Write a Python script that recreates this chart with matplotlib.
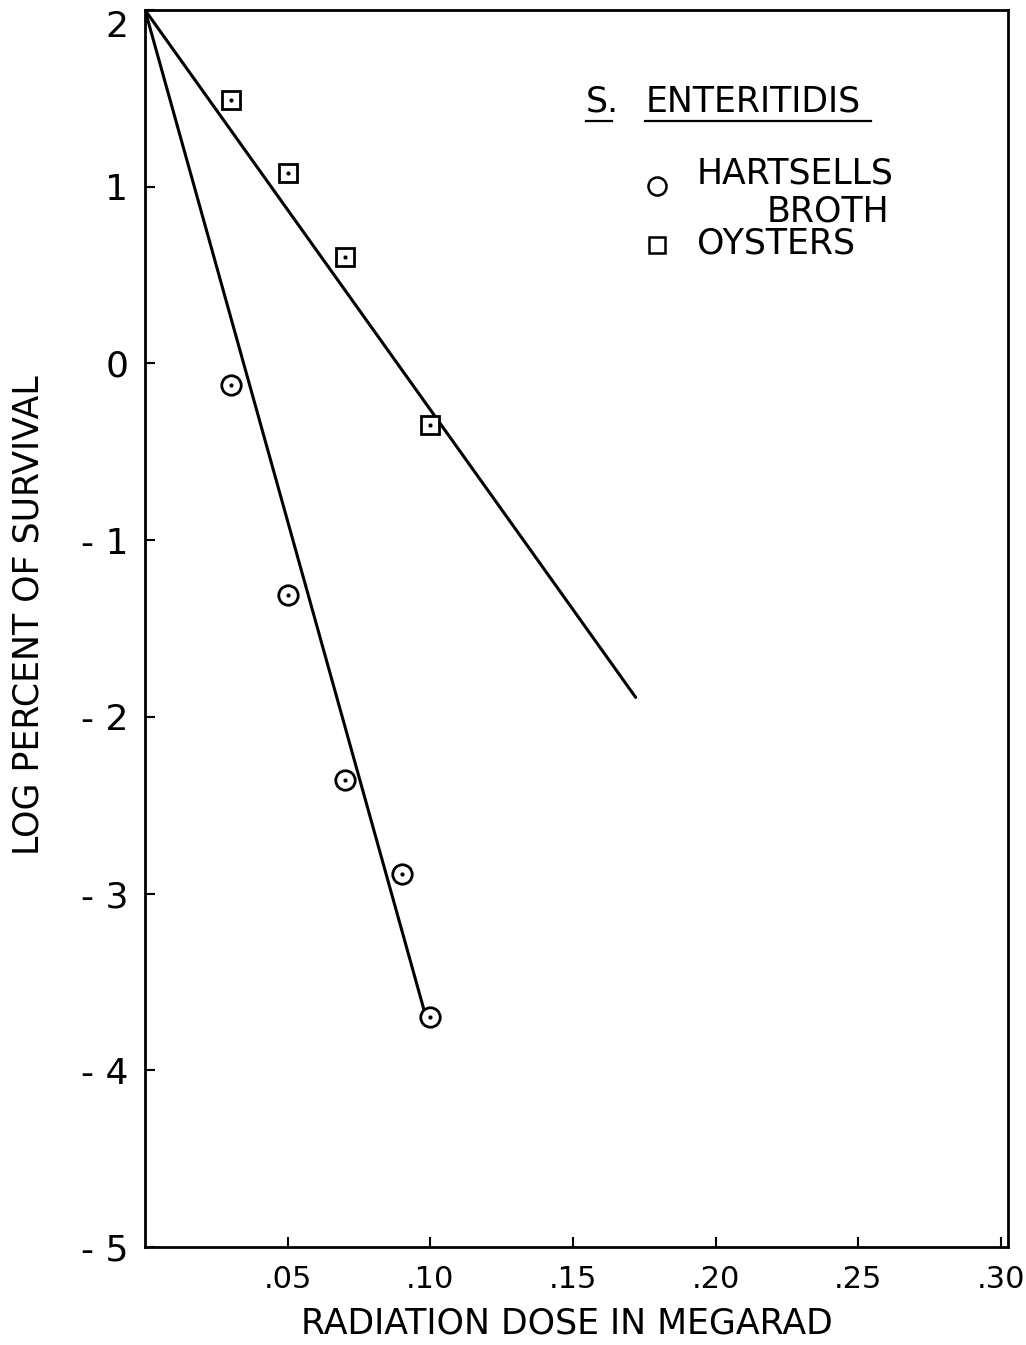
import matplotlib
matplotlib.use("Agg")
import matplotlib.pyplot as plt
from matplotlib.lines import Line2D

plt.rcParams['font.family'] = ['DejaVu Sans']

# ---- data ----
broth_dose = [0.03, 0.05, 0.07, 0.09, 0.10]
broth_log = [-0.12, -1.31, -2.36, -2.89, -3.70]
oyster_dose = [0.03, 0.05, 0.07, 0.10]
oyster_log = [1.49, 1.08, 0.60, -0.35]
broth_fit_x = [0.0, 0.098]
broth_fit_y = [2.0, -3.67]
oyster_fit_x = [0.0, 0.172]
oyster_fit_y = [2.0, -1.89]
xticks = [0.05, 0.10, 0.15, 0.20, 0.25, 0.30]
xtick_labels = ['.05', '.10', '.15', '.20', '.25', '.30']
yticks = [-5, -4, -3, -2, -1, 0, 1, 2]
ytick_labels = ['- 5', '- 4', '- 3', '- 2', '- 1', '0', '1', '2']

W, H = 1026, 1345
fig = plt.figure(figsize=(W / 100, H / 100), dpi=100)
ax_left, ax_right, ax_top, ax_bot = 145, 1008, 10, 1247
ax = fig.add_axes([ax_left / W, 1 - ax_bot / H, (ax_right - ax_left) / W,
                   (ax_bot - ax_top) / H])

lw = 2.2
ax.plot(oyster_fit_x, oyster_fit_y, color='black', lw=lw, solid_capstyle='round')
ax.plot(broth_fit_x, broth_fit_y, color='black', lw=lw, solid_capstyle='round')

ax.plot(broth_dose, broth_log, linestyle='none', marker='o', ms=14,
        mfc='white', mec='black', mew=2.0)
ax.plot(oyster_dose, oyster_log, linestyle='none', marker='s', ms=13,
        mfc='white', mec='black', mew=2.0)
# center dots
ax.plot(broth_dose, broth_log, linestyle='none', marker='o', ms=2, color='black')
ax.plot(oyster_dose, oyster_log, linestyle='none', marker='o', ms=2, color='black')

ax.set_xlim(0, 0.3025)
ax.set_ylim(-5, 2)
ax.set_xticks(xticks)
xl = ax.set_xticklabels(xtick_labels)
ax.set_yticks(yticks)
yl = ax.set_yticklabels(ytick_labels)
yl[-1].set_va('top')
ax.tick_params(axis='both', direction='in', length=7, width=1.5)
ax.tick_params(axis='x', labelsize=22, pad=13)
ax.tick_params(axis='y', labelsize=26, pad=12)
for s in ax.spines.values():
    s.set_linewidth(2.0)

ax.set_xlabel('RADIATION DOSE IN MEGARAD', fontsize=25)
ax.set_ylabel('LOG PERCENT OF SURVIVAL', fontsize=25)
ax.xaxis.set_label_coords((567 - ax_left) / (ax_right - ax_left),
                          (ax_bot - 1306) / (ax_bot - ax_top))
ax.yaxis.set_label_coords((46 - ax_left) / (ax_right - ax_left),
                          (ax_bot - 615) / (ax_bot - ax_top))


def fx(px):
    return px / W


def fy(py):
    return 1 - py / H


ts = 25
fig.text(fx(586), fy(101), 'S.', fontsize=ts, va='center', ha='left')
fig.text(fx(646), fy(101), 'ENTERITIDIS', fontsize=ts, va='center', ha='left')
fig.add_artist(Line2D([fx(586), fx(612)], [fy(121), fy(121)], color='black', lw=1.6))
fig.add_artist(Line2D([fx(645), fx(871)], [fy(121), fy(121)], color='black', lw=1.6))

fig.add_artist(Line2D([fx(657)], [fy(186)], marker='o', ms=13, mfc='white',
                      mec='black', mew=1.8, linestyle='none'))
fig.text(fx(697), fy(173), 'HARTSELLS', fontsize=ts, va='center', ha='left')
fig.text(fx(767), fy(211), 'BROTH', fontsize=ts, va='center', ha='left')
fig.add_artist(Line2D([fx(657)], [fy(245)], marker='s', ms=11, mfc='white',
                      mec='black', mew=1.8, linestyle='none'))
fig.text(fx(697), fy(244), 'OYSTERS', fontsize=ts, va='center', ha='left')

fig.savefig('out.png', dpi=100, facecolor='white')
